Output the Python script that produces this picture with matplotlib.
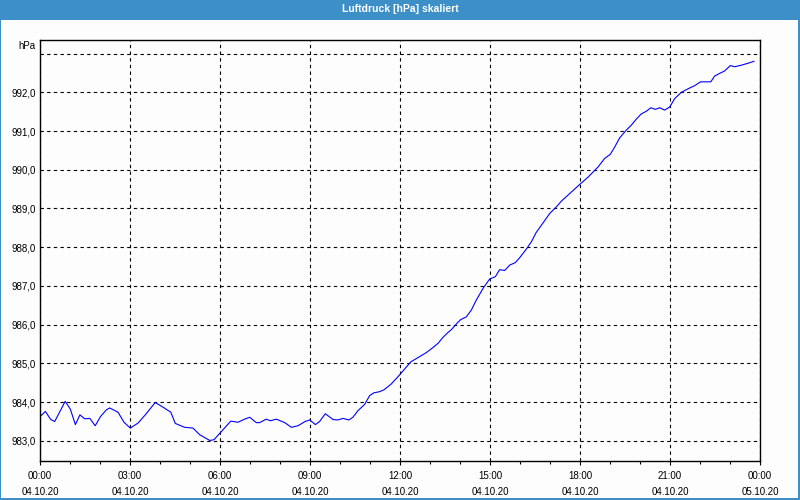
import matplotlib
matplotlib.use("Agg")
from matplotlib import pyplot as plt
from matplotlib.ticker import MultipleLocator
from matplotlib.patches import Rectangle

# hours after 04.10.20 00:00 and pressure in hPa
hours = [0.02, 0.18, 0.36, 0.49, 0.84, 1.01, 1.18, 1.33, 1.49, 1.66, 1.84,
         2.02, 2.21, 2.32, 2.60, 2.80, 3.01, 3.27, 3.54, 3.84, 4.10, 4.36,
         4.51, 4.82, 5.10, 5.32, 5.66, 5.80, 6.08, 6.36, 6.60, 6.82, 6.99,
         7.21, 7.32, 7.54, 7.68, 7.88, 8.16, 8.38, 8.60, 8.84, 8.99, 9.18,
         9.32, 9.51, 9.77, 9.93, 10.10, 10.30, 10.43, 10.60, 10.82, 10.99,
         11.13, 11.32, 11.47, 11.71, 11.96, 12.16, 12.36, 12.60, 12.88,
         13.10, 13.27, 13.43, 13.60, 13.71, 13.88, 14.02, 14.21, 14.38,
         14.54, 14.77, 14.99, 15.18, 15.32, 15.49, 15.66, 15.84, 15.99,
         16.21, 16.38, 16.54, 16.77, 16.99, 17.21, 17.38, 17.99, 18.27,
         18.60, 18.82, 19.01, 19.16, 19.32, 19.54, 19.71, 19.88, 20.04,
         20.21, 20.36, 20.51, 20.66, 20.82, 20.99, 21.16, 21.38, 21.60,
         21.82, 22.02, 22.36, 22.49, 22.66, 22.82, 23.01, 23.16, 23.38,
         23.60, 23.80]
pressure = [983.64, 983.76, 983.55, 983.50, 984.02, 983.82, 983.42, 983.67,
            983.57, 983.58, 983.39, 983.63, 983.80, 983.85, 983.74, 983.48,
            983.33, 983.46, 983.70, 983.99, 983.87, 983.74, 983.45, 983.35,
            983.33, 983.16, 983.01, 983.03, 983.27, 983.51, 983.48, 983.56,
            983.61, 983.47, 983.47, 983.56, 983.52, 983.56, 983.47, 983.35,
            983.39, 983.50, 983.54, 983.42, 983.50, 983.70, 983.55, 983.54,
            983.58, 983.54, 983.61, 983.78, 983.94, 984.17, 984.24, 984.27,
            984.32, 984.47, 984.68, 984.86, 985.04, 985.15, 985.28, 985.41,
            985.52, 985.67, 985.80, 985.87, 986.02, 986.13, 986.20, 986.38,
            986.63, 986.94, 987.18, 987.24, 987.42, 987.40, 987.54, 987.60,
            987.73, 987.95, 988.14, 988.38, 988.63, 988.87, 989.04, 989.19,
            989.62, 989.81, 990.07, 990.29, 990.40, 990.59, 990.82, 991.02,
            991.15, 991.31, 991.44, 991.51, 991.60, 991.56, 991.60, 991.54,
            991.62, 991.84, 992.00, 992.09, 992.17, 992.27, 992.27, 992.42,
            992.49, 992.55, 992.69, 992.66, 992.70, 992.75, 992.80]

x_ticks = [0, 3, 6, 9, 12, 15, 18, 21, 24]
x_labels = ["00:00\n04.10.20", "03:00\n04.10.20", "06:00\n04.10.20",
            "09:00\n04.10.20", "12:00\n04.10.20", "15:00\n04.10.20",
            "18:00\n04.10.20", "21:00\n04.10.20", "00:00\n05.10.20"]
y_ticks = [983, 984, 985, 986, 987, 988, 989, 990, 991, 992, 993]
y_labels = ["983,0", "984,0", "985,0", "986,0", "987,0", "988,0",
            "989,0", "990,0", "991,0", "992,0", ""]

BLUE = "#3d8fc7"
plt.rcParams["font.family"] = ["Liberation Sans", "DejaVu Sans"]

fig = plt.figure(figsize=(8, 5), dpi=100, facecolor="#fcfdfc")

# title bar and frame
fig.patches.append(Rectangle((0, 0.96), 1, 0.04, transform=fig.transFigure,
                             facecolor=BLUE, edgecolor="none"))
fig.patches.append(Rectangle((0, 0), 0.0015, 1, transform=fig.transFigure,
                             facecolor=BLUE, edgecolor="none"))
fig.patches.append(Rectangle((0.9972, 0), 0.0028, 1, transform=fig.transFigure,
                             facecolor=BLUE, edgecolor="none"))
fig.patches.append(Rectangle((0, 0), 1, 0.005, transform=fig.transFigure,
                             facecolor=BLUE, edgecolor="none"))
fig.text(0.5, 0.981, "Luftdruck [hPa] skaliert", color="white",
         fontsize=7.5, fontweight="bold", ha="center", va="center")

ax = fig.add_axes([0.05, 0.078, 0.9, 0.842])
ax.set_facecolor("#fcfdfc")
ax.plot(hours, pressure, color="#0000ff", lw=0.8)

ax.set_xlim(0, 24)
ax.set_ylim(982.48, 993.35)
ax.set_xticks(x_ticks)
ax.set_xticklabels(x_labels, fontsize=7, linespacing=1.75)
ax.xaxis.set_minor_locator(MultipleLocator(1))
ax.set_yticks(y_ticks)
ax.set_yticklabels(y_labels, fontsize=7)
ax.tick_params(axis="x", which="major", length=3, width=0.8, pad=4)
ax.tick_params(axis="x", which="minor", length=2, width=0.8)
ax.tick_params(axis="y", length=0, pad=3)

ax.grid(True, which="major", color="black", linestyle=(0, (3, 3)), lw=0.8)
for s in ax.spines.values():
    s.set_linewidth(1.0)

ax.annotate("hPa", xy=(0, 1), xycoords="axes fraction", xytext=(-3, -4),
            textcoords="offset points", ha="right", va="center", fontsize=7)

fig.savefig("out.png", dpi=100, facecolor=fig.get_facecolor())
